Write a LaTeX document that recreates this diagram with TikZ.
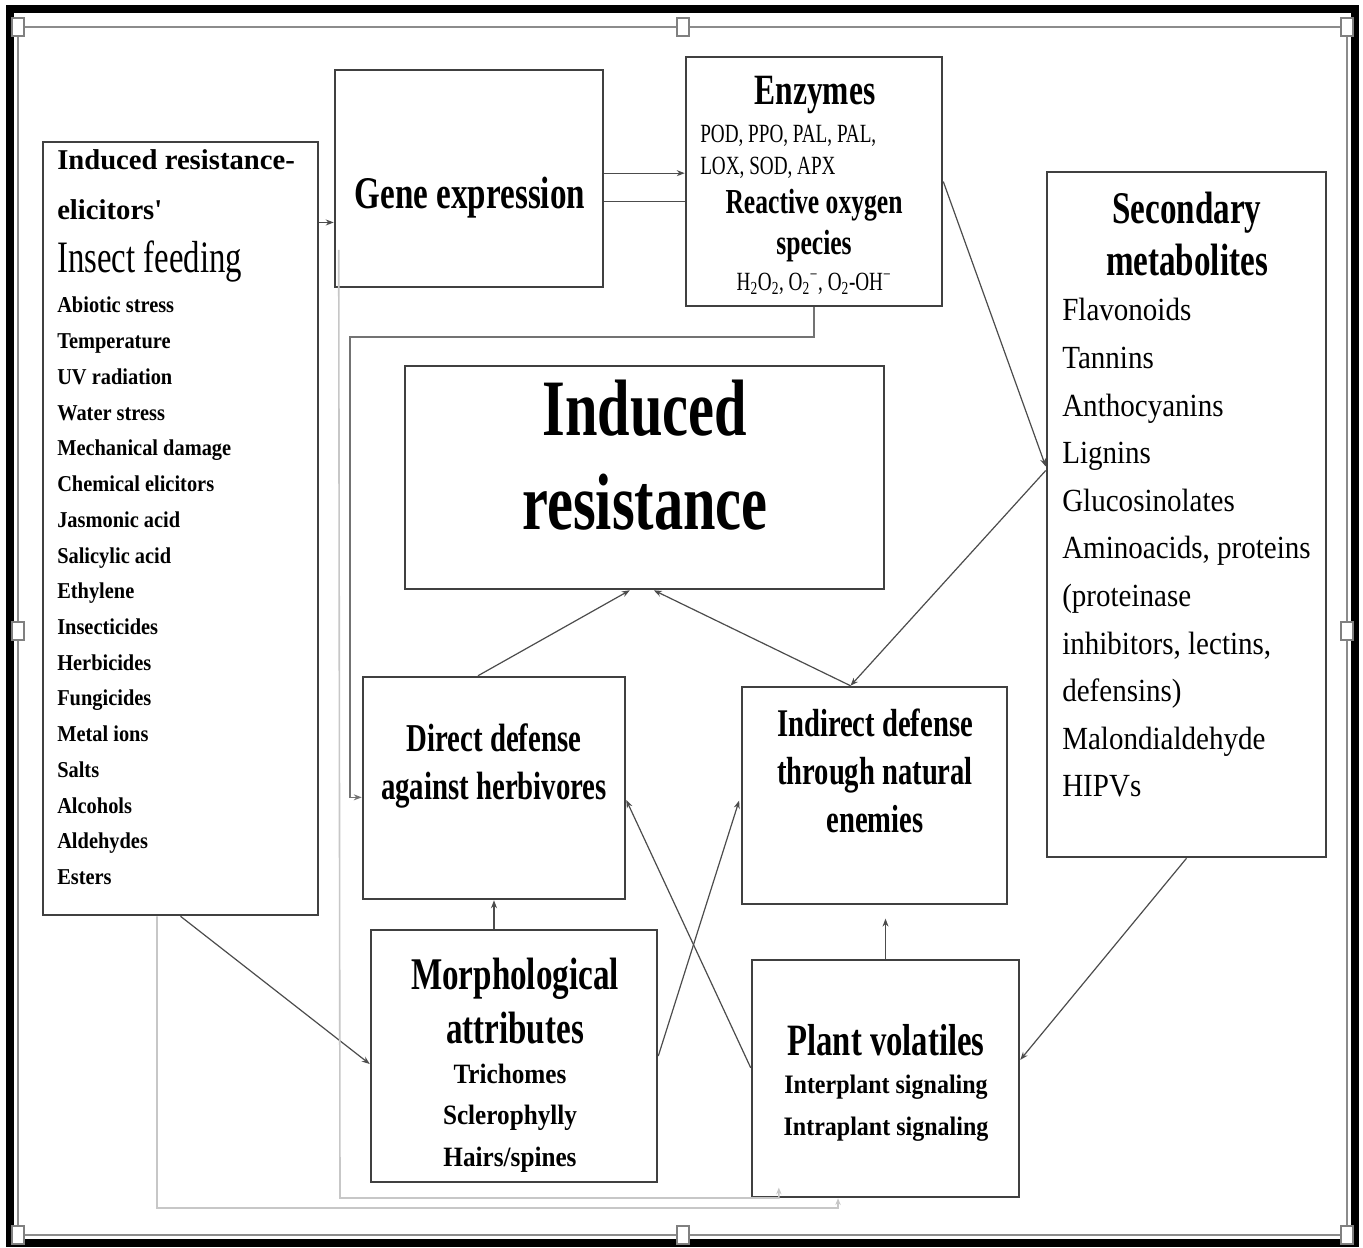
\documentclass[tikz,border=0pt]{standalone}
\usepackage{fontspec}
\setmainfont[FakeStretch=0.9]{Liberation Serif}
\newfontfamily\condfont[FakeStretch=0.73]{Liberation Serif}
\newfontfamily\plainfont{Liberation Serif}
\newcommand{\fsz}[2]{\fontsize{#1}{#2}\selectfont}
\usetikzlibrary{fit,arrows.meta}

\begin{document}
\begin{tikzpicture}[x=0.75pt,y=0.75pt,yscale=-1,xscale=1,
        box/.style={draw=black!75,line width=1.9pt,inner sep=0pt},
        txt/.style={inner sep=0.75pt,align=center},
        lst/.style={inner sep=0.75pt,align=left,anchor=west},
        conn/.style={draw=black!70,line width=0.9pt},
        arr/.style={conn,-{Stealth[length=6pt,width=4.5pt]}},
        back/.style={draw=black!55,line width=0.9pt,-{Stealth[length=6pt,width=4.5pt]}},
        loop/.style={draw=black!22,line width=1.2pt,-{Stealth[length=5pt,width=4pt]}},
        handle/.style={draw=black!50,fill=white,line width=0.8pt}]
        \useasboundingbox (0,0) rectangle (1363,1247);
        \fill[white] (0,0) rectangle (1363,1247);
        
        %Frame
        \draw[line width=6.5pt] (10,9) rectangle (1355,1243);
        \draw[black!45,line width=1pt] (18,27) rectangle (1347,1235);
        %Handles
        \draw[handle] (12,18) rectangle (24,36);
        \draw[handle] (677,18) rectangle (689,36);
        \draw[handle] (1341,18) rectangle (1353,36);
        \draw[handle] (12,622) rectangle (24,640);
        \draw[handle] (1341,622) rectangle (1353,640);
        \draw[handle] (12,1226) rectangle (24,1244);
        \draw[handle] (677,1226) rectangle (689,1244);
        \draw[handle] (1341,1226) rectangle (1353,1244);
        
        %Shape: Rectangle
        \node[box,fit={(43,142) (318,915)}] (elic) {};
        %Shape: Rectangle
        \node[box,fit={(335,70) (603,287)}] (gene) {};
        %Shape: Rectangle
        \node[box,fit={(686,57) (942,306)}] (enz) {};
        %Shape: Rectangle
        \node[box,fit={(1047,172) (1326,857)}] (sec) {};
        %Shape: Rectangle
        \node[box,fit={(405,366) (884,589)}] (ir) {};
        %Shape: Rectangle
        \node[box,fit={(363,677) (625,899)}] (direct) {};
        %Shape: Rectangle
        \node[box,fit={(742,687) (1007,904)}] (indirect) {};
        %Shape: Rectangle
        \node[box,fit={(371,930) (657,1182)}] (morph) {};
        %Shape: Rectangle
        \node[box,fit={(752,960) (1019,1197)}] (vol) {};
        
        % Text Node
        \node[lst,font=\plainfont\bfseries\fsz{21.5pt}{37.5pt}] (elic-title) at (56,185) {Induced resistance-\\elicitors'};
        % Text Node
        \node[lst,font=\condfont\fsz{33.7pt}{40pt}] (elic-insect) at (56,262) {Insect feeding};
        % Text Node
        \node[lst,font=\bfseries\fsz{17pt}{26.8pt}] (elic-list) at (56,591) {Abiotic stress\\Temperature\\UV radiation\\Water stress\\Mechanical damage\\Chemical elicitors\\Jasmonic acid\\Salicylic acid\\Ethylene\\Insecticides\\Herbicides\\Fungicides\\Metal ions\\Salts\\Alcohols\\Aldehydes\\Esters};
        % Text Node
        \node[txt,font=\condfont\bfseries\fsz{34pt}{40pt}] (gene-text) at (470,198) {Gene expression};
        % Text Node
        \node[txt,font=\condfont\bfseries\fsz{32.4pt}{38pt}] (enz-title) at (815,95) {Enzymes};
        % Text Node
        \node[lst,font=\condfont\fsz{19.7pt}{24pt}] (enz-list) at (699,152) {POD, PPO, PAL, PAL,\\LOX, SOD, APX};
        % Text Node
        \node[txt,font=\condfont\bfseries\fsz{26.3pt}{30.75pt}] (ros) at (814,226) {Reactive oxygen\\species};
        % Text Node
        \node[txt,font=\condfont\fsz{19.7pt}{24pt}] (ros-list) at (814,284) {H\textsubscript{2}O\textsubscript{2}, O\textsubscript{2}\textsuperscript{−}, O\textsubscript{2}-OH\textsuperscript{−}};
        % Text Node
        \node[txt,font=\condfont\bfseries\fsz{34pt}{39pt}] (sec-title) at (1187,234) {Secondary\\metabolites};
        % Text Node
        \node[lst,font=\fsz{24.2pt}{35.7pt}] (sec-list) at (1061,548) {Flavonoids\\Tannins\\Anthocyanins\\Lignins\\Glucosinolates\\Aminoacids, proteins\\(proteinase\\inhibitors, lectins,\\defensins)\\Malondialdehyde\\HIPVs};
        % Text Node
        \node[txt,font=\condfont\bfseries\fsz{60pt}{70pt}] (ir-text) at (645,455) {Induced\\resistance};
        % Text Node
        \node[txt,font=\condfont\bfseries\fsz{29.6pt}{36pt}] (direct-text) at (494,766) {Direct defense\\against herbivores};
        % Text Node
        \node[txt,font=\condfont\bfseries\fsz{29.4pt}{36pt}] (indirect-text) at (875,771) {Indirect defense\\through natural\\enemies};
        % Text Node
        \node[txt,font=\condfont\bfseries\fsz{34pt}{40pt}] (morph-title) at (515,1001) {Morphological\\attributes};
        % Text Node
        \node[txt,font=\bfseries\fsz{21pt}{31pt}] (morph-list) at (510,1118) {Trichomes\\Sclerophylly\\Hairs/spines};
        % Text Node
        \node[txt,font=\condfont\bfseries\fsz{33.6pt}{40pt}] (vol-title) at (886,1040) {Plant volatiles};
        % Text Node
        \node[txt,font=\bfseries\fsz{20pt}{31.5pt}] (vol-list) at (886,1108) {Interplant signaling\\Intraplant signaling};
        
        %Connector ends (yshift runs downwards here, as yscale=-1)
        \coordinate (g-up) at ([yshift=-4pt]gene.east);
        \coordinate (g-lo) at ([yshift=17pt]gene.east);
        \coordinate (s-in) at ([yshift=-36pt]sec.west);
        \coordinate (s-out) at ([yshift=-33pt]sec.west);
        \coordinate (ind-top) at ([xshift=-18pt]indirect.north);
        \coordinate (fb) at (350,337);
        \coordinate (la) at (157,1208);
        \coordinate (lb) at (340,1198);
        
        %Straight Lines
        \draw[arr] (elic.east |- gene.198) -- (gene.198);
        \draw[arr] (g-up) -- (g-up -| enz.west);
        \draw[conn] (g-lo) -- (g-lo -| enz.west);
        \draw[arr] (enz.east) -- (s-in);
        \draw[arr] (s-out) -- (ind-top);
        \draw[arr] (ind-top) -- ([xshift=7pt]ir.south);
        \draw[arr] ([xshift=-12pt]direct.north) -- ([xshift=-11pt]ir.south);
        \draw[arr] (morph.north -| direct.south) -- (direct.south);
        \draw[arr,shorten >=10pt] (vol.north) -- (vol.north |- indirect.south);
        \draw[arr,shorten >=4pt] (morph.east) -- (indirect.west);
        \draw[arr] ([yshift=-8pt]vol.west) -- ([yshift=9pt]direct.east);
        \draw[arr] (elic.south) -- ([yshift=6pt]morph.west);
        \draw[arr] (sec.south) -- ([yshift=-14pt]vol.east);
        %Feedback Lines
        \draw[back] (enz.south) |- (fb) |- ([yshift=7pt]direct.west);
        \draw[loop] ([xshift=-17.6pt]elic.south) -- (la) -| ([xshift=-35.6pt]vol.south);
        \draw[loop] ([xshift=3.75pt,yshift=53.6pt]gene.west) -- (lb) -| ([xshift=-80pt,yshift=-8pt]vol.south);
\end{tikzpicture}
\end{document}
